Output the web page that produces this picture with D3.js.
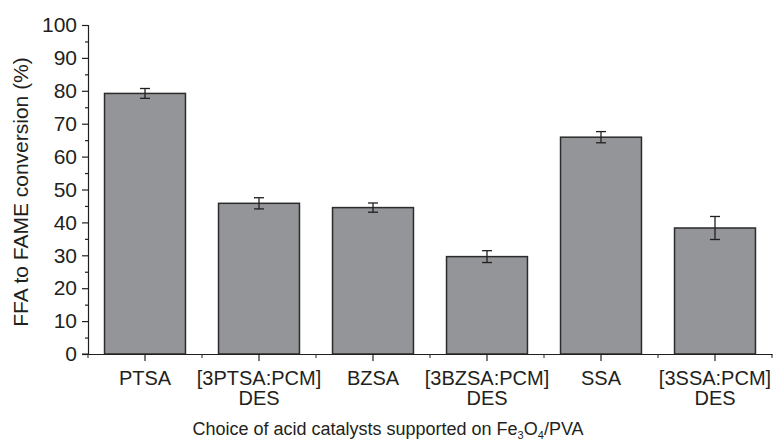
<!DOCTYPE html>
<html>
<head>
<meta charset="utf-8">
<script src="https://cdnjs.cloudflare.com/ajax/libs/d3/7.8.5/d3.min.js"></script>
<style>
  body { margin: 0; background: #fff; }
  text { font-family: "Liberation Sans", Arial, sans-serif; fill: #231f20; }
</style>
</head>
<body>
<div id="chart"></div>
<script>
// catalyst names (two-line labels) and conversion values
var catalysts = ['PTSA', '[3PTSA:PCM]|DES', 'BZSA', '[3BZSA:PCM]|DES', 'SSA', '[3SSA:PCM]|DES'];
var conversion = [79.2, 45.8, 44.5, 29.6, 65.9, 38.3];
var errors = [1.5, 1.7, 1.4, 1.8, 1.7, 3.5];
var yTicks = [0, 10, 20, 30, 40, 50, 60, 70, 80, 90, 100];

var width = 778, height = 445;
var m = {left: 88, right: 6, top: 25, bottom: 91};

var svg = d3.select('#chart').append('svg')
  .attr('width', width)
  .attr('height', height);

var x = d3.scaleBand()
  .domain(catalysts)
  .range([m.left, width - m.right])
  .paddingInner(0.29)
  .paddingOuter(0.145);

var y = d3.scaleLinear()
  .domain([0, 100])
  .range([height - m.bottom, m.top]);

var data = catalysts.map(function(c, i) {
  return {name: c, value: conversion[i], err: errors[i]};
});

// bars
svg.selectAll('rect.bar').data(data).enter()
  .append('rect')
  .attr('class', 'bar')
  .attr('x', function(d) { return x(d.name); })
  .attr('y', function(d) { return y(d.value); })
  .attr('width', x.bandwidth())
  .attr('height', function(d) { return y(0) - y(d.value); })
  .attr('fill', '#939598')
  .attr('stroke', '#2b2b2b')
  .attr('stroke-width', 1.5);

// error bars
var eb = svg.selectAll('g.err').data(data).enter()
  .append('g').attr('class', 'err')
  .attr('stroke', '#231f20')
  .attr('stroke-width', 1.3);
eb.append('line')
  .attr('x1', function(d) { return x(d.name) + x.bandwidth() / 2; })
  .attr('x2', function(d) { return x(d.name) + x.bandwidth() / 2; })
  .attr('y1', function(d) { return y(d.value + d.err); })
  .attr('y2', function(d) { return y(d.value - d.err); });
[1, -1].forEach(function(s) {
  eb.append('line')
    .attr('x1', function(d) { return x(d.name) + x.bandwidth() / 2 - 5; })
    .attr('x2', function(d) { return x(d.name) + x.bandwidth() / 2 + 5; })
    .attr('y1', function(d) { return y(d.value + s * d.err); })
    .attr('y2', function(d) { return y(d.value + s * d.err); });
});

// y axis: major + minor ticks
var yAxis = svg.append('g')
  .attr('transform', 'translate(' + m.left + ',0)')
  .call(d3.axisLeft(y).tickValues(yTicks).tickSize(6).tickPadding(5));
svg.append('g')
  .attr('transform', 'translate(' + m.left + ',0)')
  .call(d3.axisLeft(y).tickValues(d3.range(5, 100, 10)).tickSize(3).tickFormat(''))
  .select('.domain').remove();
yAxis.selectAll('text').style('font-size', '21px').attr('fill', '#231f20');

// x axis
var xAxis = svg.append('g')
  .attr('transform', 'translate(0,' + y(0) + ')')
  .call(d3.axisBottom(x).tickSize(7).tickSizeOuter(0).tickFormat(''));
var bounds = catalysts.map(function(c) { return x(c) - x.step() * x.paddingInner() / 2; }).slice(1);
bounds.push(width - m.right);
svg.append('g')
  .selectAll('line').data(bounds).enter()
  .append('line')
  .attr('x1', function(d) { return d; })
  .attr('x2', function(d) { return d; })
  .attr('y1', y(0))
  .attr('y2', y(0) + 4)
  .attr('stroke', '#231f20');
svg.append('line')
  .attr('x1', m.left - 6).attr('x2', m.left)
  .attr('y1', y(0)).attr('y2', y(0))
  .attr('stroke', '#231f20');
svg.append('line')
  .attr('x1', m.left).attr('x2', m.left)
  .attr('y1', y(0)).attr('y2', y(0) + 4)
  .attr('stroke', '#231f20');
svg.selectAll('.domain, .tick line').attr('stroke', '#231f20').attr('stroke-width', 1.2);

// category labels, one text per line
catalysts.forEach(function(c) {
  c.split('|').forEach(function(line, i) {
    svg.append('text')
      .attr('class', 'cat')
      .attr('text-anchor', 'middle')
      .style('font-size', '20px')
      .attr('x', x(c) + x.bandwidth() / 2)
      .attr('y', y(0) + 31 + i * 20)
      .text(line);
  });
});

// axis titles
var xt = svg.append('text')
  .attr('x', 388).attr('y', 435)
  .attr('text-anchor', 'middle')
  .style('font-size', '18px');
xt.append('tspan').text('Choice of acid catalysts supported on Fe');
xt.append('tspan').attr('dy', 4).style('font-size', '11px').text('3');
xt.append('tspan').attr('dy', -4).text('O');
xt.append('tspan').attr('dy', 4).style('font-size', '11px').text('4');
xt.append('tspan').attr('dy', -4).text('/PVA');

svg.append('text')
  .attr('transform', 'translate(28,' + 192 + ') rotate(-90)')
  .attr('text-anchor', 'middle')
  .style('font-size', '21px')
  .text('FFA to FAME conversion (%)');
</script>
</body>
</html>
